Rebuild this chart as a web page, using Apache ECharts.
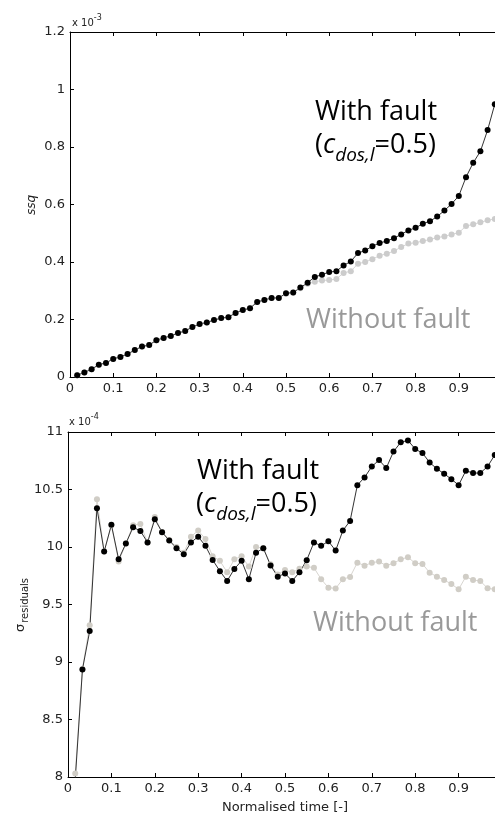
<!DOCTYPE html>
<html>
<head>
<meta charset="utf-8">
<script src="https://cdn.jsdelivr.net/npm/echarts@6/dist/echarts.min.js"></script>
<style>
    html, body {margin: 0; padding: 0; background: #fff;}
    #chart {width: 495px; height: 817px;}
</style>
</head>
<body>
<div id="chart"></div>
<script>
// normalised time of each sample (60 samples)
var times = [0.0167, 0.0333, 0.05, 0.0667, 0.0833, 0.1, 0.1167, 0.1333, 0.15, 0.1667,
    0.1833, 0.2, 0.2167, 0.2333, 0.25, 0.2667, 0.2833, 0.3, 0.3167, 0.3333,
    0.35, 0.3667, 0.3833, 0.4, 0.4167, 0.4333, 0.45, 0.4667, 0.4833, 0.5,
    0.5167, 0.5333, 0.55, 0.5667, 0.5833, 0.6, 0.6167, 0.6333, 0.65, 0.6667,
    0.6833, 0.7, 0.7167, 0.7333, 0.75, 0.7667, 0.7833, 0.8, 0.8167, 0.8333,
    0.85, 0.8667, 0.8833, 0.9, 0.9167, 0.9333, 0.95, 0.9667, 0.9833, 1];

// ssq, x 10^-3
var ssqFault = [0.006, 0.016, 0.027, 0.043, 0.049, 0.063, 0.070, 0.080, 0.094, 0.106,
    0.111, 0.128, 0.136, 0.143, 0.153, 0.160, 0.174, 0.184, 0.190, 0.198,
    0.205, 0.208, 0.223, 0.233, 0.239, 0.261, 0.268, 0.275, 0.275, 0.291,
    0.294, 0.311, 0.328, 0.348, 0.356, 0.365, 0.368, 0.388, 0.402, 0.431,
    0.440, 0.455, 0.466, 0.473, 0.483, 0.496, 0.510, 0.519, 0.533, 0.542,
    0.558, 0.579, 0.602, 0.630, 0.695, 0.745, 0.785, 0.859, 0.949, 1.05];
var ssqNoFault = [0.006, 0.016, 0.027, 0.043, 0.049, 0.063, 0.070, 0.080, 0.094, 0.106,
    0.111, 0.128, 0.136, 0.143, 0.153, 0.160, 0.174, 0.184, 0.190, 0.198,
    0.205, 0.208, 0.223, 0.233, 0.239, 0.261, 0.268, 0.275, 0.275, 0.290,
    0.293, 0.309, 0.324, 0.331, 0.336, 0.337, 0.341, 0.362, 0.368, 0.394,
    0.400, 0.410, 0.422, 0.429, 0.438, 0.452, 0.464, 0.467, 0.473, 0.478,
    0.485, 0.489, 0.496, 0.502, 0.525, 0.531, 0.538, 0.545, 0.550, 0.556];

// sigma residuals, x 10^-4
var sigmaFault = [7.98, 8.935, 9.269, 10.338, 9.960, 10.193, 9.893, 10.03, 10.172, 10.14,
    10.04, 10.242, 10.129, 10.056, 9.99, 9.937, 10.04, 10.09, 10.01, 9.888,
    9.79, 9.705, 9.809, 9.88, 9.72, 9.95, 9.99, 9.84, 9.742, 9.77,
    9.705, 9.78, 9.885, 10.04, 10.01, 10.05, 9.969, 10.143, 10.227, 10.538,
    10.605, 10.70, 10.756, 10.686, 10.83, 10.91, 10.927, 10.852, 10.817, 10.735,
    10.68, 10.637, 10.59, 10.538, 10.663, 10.643, 10.643, 10.70, 10.80, 10.85];
var sigmaNoFault = [8.03, 8.94, 9.32, 10.416, 9.96, 10.19, 9.873, 10.03, 10.19, 10.20,
    10.04, 10.26, 10.13, 10.06, 10.0, 9.95, 10.09, 10.143, 10.07, 9.92,
    9.88, 9.78, 9.893, 9.92, 9.83, 10.0, 9.99, 9.85, 9.76, 9.80,
    9.78, 9.81, 9.83, 9.82, 9.72, 9.646, 9.64, 9.72, 9.74, 9.864,
    9.838, 9.864, 9.873, 9.838, 9.859, 9.893, 9.911, 9.859, 9.853, 9.777,
    9.742, 9.713, 9.679, 9.632, 9.742, 9.713, 9.705, 9.641, 9.632, 9.62];

var xTicks = {min: 0, max: 1, interval: 0.1};
var ssqTicks = {min: 0, max: 1.2, interval: 0.2};
var sigmaTicks = {min: 8, max: 11, interval: 0.5};

var tickFont = 'DejaVu Sans';
var annotFont = 'Open Sans';

function pairs(xs, ys) {
    return ys.map(function (v, i) {
        return [xs[i], v];
    });
}

function bottomX(gridIndex, name) {
    return {
        type: 'value', gridIndex: gridIndex, position: 'bottom',
        min: xTicks.min, max: xTicks.max, interval: xTicks.interval,
        name: name || '', nameLocation: 'middle', nameGap: 24,
        nameTextStyle: {fontFamily: tickFont, fontSize: 13, color: '#222'},
        axisLine: {lineStyle: {color: '#000', width: 1}},
        axisTick: {inside: true, length: 4, lineStyle: {color: '#000'}},
        axisLabel: {fontFamily: tickFont, fontSize: 13, color: '#222', margin: 5},
        splitLine: {show: false}
    };
}

function topX(gridIndex) {
    return {
        type: 'value', gridIndex: gridIndex, position: 'top',
        min: xTicks.min, max: xTicks.max, interval: xTicks.interval,
        axisLine: {lineStyle: {color: '#000', width: 1}},
        axisTick: {inside: true, length: 4, lineStyle: {color: '#000'}},
        axisLabel: {show: false},
        splitLine: {show: false}
    };
}

function leftY(gridIndex, ticks) {
    return {
        type: 'value', gridIndex: gridIndex,
        min: ticks.min, max: ticks.max, interval: ticks.interval,
        axisLine: {show: true, lineStyle: {color: '#000', width: 1}},
        axisTick: {show: true, inside: true, length: 4, lineStyle: {color: '#000'}},
        axisLabel: {fontFamily: tickFont, fontSize: 13, color: '#222', margin: 5},
        splitLine: {show: false}
    };
}

function lineSeries(name, xIdx, yIdx, data, lineColor, markColor) {
    return {
        name: name, type: 'line', xAxisIndex: xIdx, yAxisIndex: yIdx,
        data: data, symbol: 'circle', symbolSize: 6, clip: true,
        lineStyle: {color: lineColor, width: 1},
        itemStyle: {color: markColor},
        animation: false
    };
}

var myChart = echarts.init(document.getElementById('chart'), null, {renderer: 'canvas'});

var subRich = {
    n: {fontFamily: annotFont, fontSize: 27, fill: '#000', verticalAlign: 'top', lineHeight: 34},
    c: {fontFamily: annotFont, fontSize: 27, fontStyle: 'italic', fill: '#000', verticalAlign: 'top', lineHeight: 34},
    d: {fontFamily: annotFont, fontSize: 19, fontStyle: 'italic', fill: '#000', verticalAlign: 'top', lineHeight: 19, padding: [14, 0, 0, 0]}
};
var expRich = {
    a: {fontFamily: tickFont, fontSize: 10, fill: '#222', verticalAlign: 'top', padding: [4, 0, 0, 0]},
    s: {fontFamily: tickFont, fontSize: 8, fill: '#222', verticalAlign: 'top'}
};

var option = {
    backgroundColor: '#fff',
    animation: false,
    grid: [
        {left: 70, top: 32, width: 432, height: 345, outerBoundsMode: 'none', containLabel: false},
        {left: 68, top: 432, width: 434, height: 345, outerBoundsMode: 'none', containLabel: false}
    ],
    xAxis: [bottomX(0), topX(0), bottomX(1, 'Normalised time [-]'), topX(1)],
    yAxis: [leftY(0, ssqTicks), leftY(1, sigmaTicks)],
    series: [
        lineSeries('ssq without fault', 0, 0, pairs(times, ssqNoFault), '#d6d6d6', '#cccccc'),
        lineSeries('ssq with fault', 0, 0, pairs(times, ssqFault), '#333', '#000'),
        lineSeries('sigma without fault', 2, 1, pairs(times, sigmaNoFault), '#d8d5d0', '#d0cdc6'),
        lineSeries('sigma with fault', 2, 1, pairs(times, sigmaFault), '#333', '#000')
    ],
    graphic: [
        // exponent labels
        {type: 'text', left: 72, top: 14, style: {text: '{a|x 10}{s|-3}', rich: expRich}},
        {type: 'text', left: 69, top: 413, style: {text: '{a|x 10}{s|-4}', rich: expRich}},
        // y axis titles
        {type: 'text', x: 32, y: 205, rotation: Math.PI / 2, style: {
            text: 'ssq', fontFamily: tickFont, fontStyle: 'italic', fontSize: 12,
            fill: '#222', align: 'center', verticalAlign: 'middle'}},
        {type: 'text', x: 22, y: 605, rotation: Math.PI / 2, style: {
            text: '{s|σ}{b|residuals}', align: 'center', verticalAlign: 'middle', rich: {
                s: {fontFamily: tickFont, fontSize: 13, fill: '#222', verticalAlign: 'top'},
                b: {fontFamily: tickFont, fontSize: 10, fill: '#222', verticalAlign: 'top', padding: [6, 0, 0, 1]}
            }}},
        // annotations, top panel
        {type: 'text', left: 315, top: 99, style: {
            text: 'With fault', fontFamily: annotFont, fontSize: 27, fill: '#000'}},
        {type: 'text', left: 315, top: 132, style: {text: '{n|(}{c|c}{d|dos,l}{n|=0.5)}', rich: subRich}},
        {type: 'text', left: 306, top: 307, style: {
            text: 'Without fault', fontFamily: annotFont, fontSize: 27, fill: '#999'}},
        // annotations, bottom panel
        {type: 'text', left: 197, top: 458, style: {
            text: 'With fault', fontFamily: annotFont, fontSize: 27, fill: '#000'}},
        {type: 'text', left: 196, top: 491, style: {text: '{n|(}{c|c}{d|dos,l}{n|=0.5)}', rich: subRich}},
        {type: 'text', left: 313, top: 610, style: {
            text: 'Without fault', fontFamily: annotFont, fontSize: 27, fill: '#999'}}
    ]
};

myChart.setOption(option);
</script>
</body>
</html>
